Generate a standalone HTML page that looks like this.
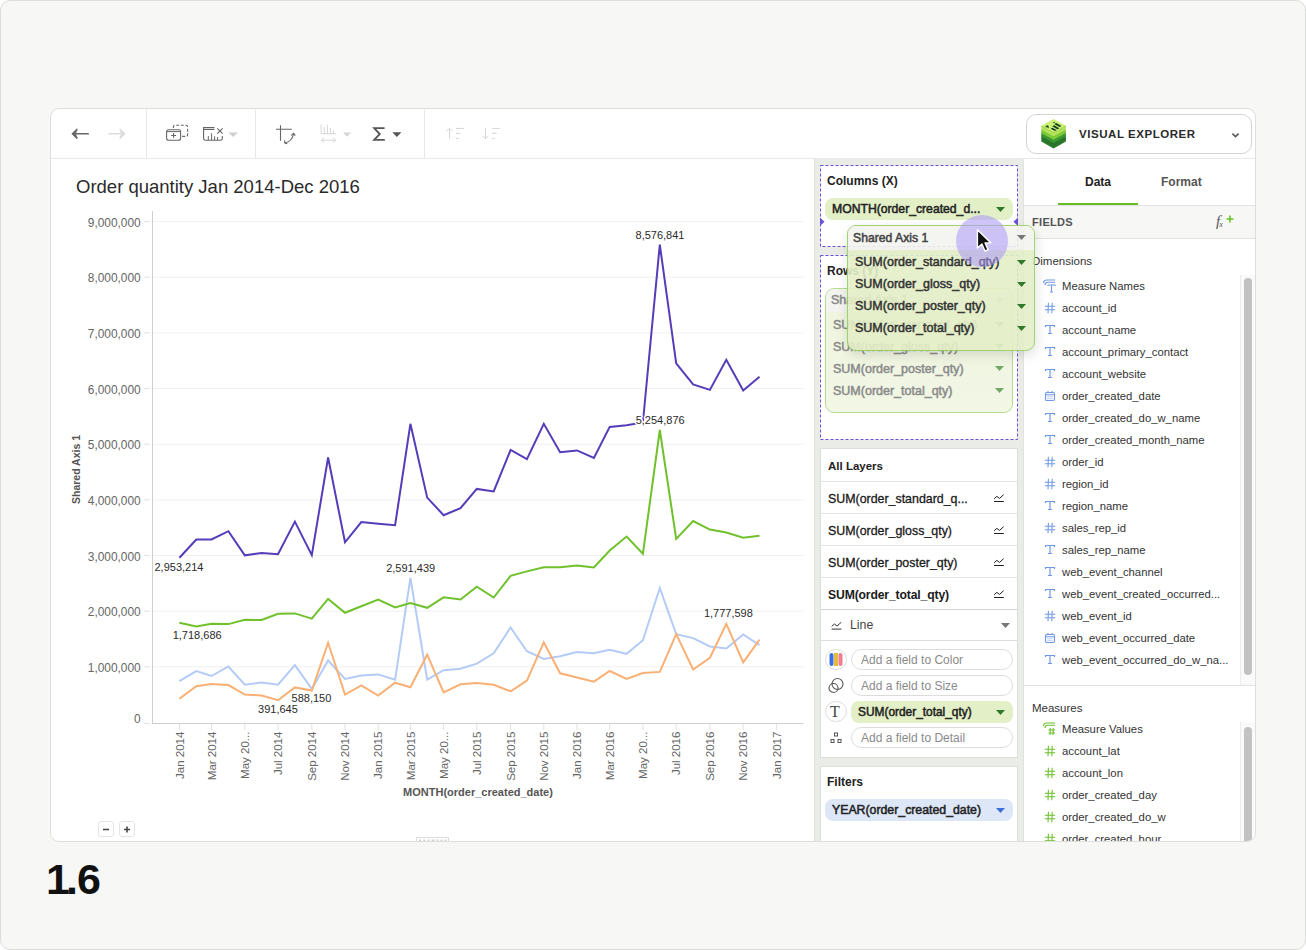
<!DOCTYPE html>
<html><head><meta charset="utf-8"><title>Visual Explorer</title>
<style>
*{box-sizing:border-box;margin:0;padding:0}
html,body{width:1306px;height:950px;overflow:hidden;background:#fff;font-family:'Liberation Sans',Arial,sans-serif;color:#222}
.abs{position:absolute}
#frame{position:absolute;left:0;top:0;width:1306px;height:950px;border:1px solid #dcdedb;border-radius:10px;background:#f7f7f5}
#card{position:absolute;left:50px;top:108px;width:1206px;height:734px;border:1px solid #dddfdc;border-radius:9px;background:#fff;overflow:hidden}
#inner{position:absolute;left:-51px;top:-109px;width:1306px;height:950px}
#toolbar{position:absolute;left:51px;top:109px;width:1204px;height:50px;border-bottom:1px solid #e9eae7}
.vdiv{position:absolute;top:109px;width:1px;height:49px;background:#e8e8e6}
#chartsvg{position:absolute;left:0;top:0}
.yl{font-family:'Liberation Sans',Arial,sans-serif;font-size:11.9px;fill:#666}
.xl{font-family:'Liberation Sans',Arial,sans-serif;font-size:11.5px;fill:#666}
.dl{font-family:'Liberation Sans',Arial,sans-serif;font-size:11px;fill:#2a2a2a;stroke:#fff;stroke-width:3px;paint-order:stroke;stroke-linejoin:round}
.at{font-family:'Liberation Sans',Arial,sans-serif;font-size:11px;font-weight:bold;fill:#555}
#title{position:absolute;left:76px;top:176px;font-size:18.5px;color:#2a2a2a;white-space:nowrap;line-height:22px}
#mid{position:absolute;left:814px;top:159px;width:210px;height:682px;background:#eaece8;border-left:1px solid #dfe1dd}
#right{position:absolute;left:1023px;top:159px;width:232px;height:682px;background:#fff;border-left:1px solid #e2e2e0}
.lbl{position:absolute;font-size:12px;font-weight:bold;color:#222;white-space:nowrap;line-height:14px}
.pill{position:absolute;border-radius:8px;white-space:nowrap;font-size:12px;line-height:22px}
.pill svg{position:absolute;right:8px;top:9px;display:block}
.tw{position:absolute;line-height:0}
.tw svg{display:block}
.fi{position:absolute;left:1062px;font-size:11.3px;color:#333;white-space:nowrap;line-height:16px}
.ic{position:absolute}
.lr{position:absolute;left:828px;font-size:12.4px;font-weight:normal;color:#1a1a1a;-webkit-text-stroke:0.3px #1a1a1a;white-space:nowrap;line-height:14px}
.lr.b{font-weight:bold;font-size:12.2px;-webkit-text-stroke:0;letter-spacing:-0.15px}
.sep{position:absolute;left:821px;width:196px;height:1px;background:#e4e4e2}
.enc{position:absolute;left:851px;width:162px;height:21px;border:1px solid #dcdcda;border-radius:11px;font-size:12px;color:#8a8a8a;line-height:21px;padding-left:9px;white-space:nowrap;background:#fff}
.eic{position:absolute;left:825px;width:22px;height:21px;border:1px solid #dcdcda;border-radius:11px;background:#fff}
.pr{position:absolute;font-size:12.5px;font-weight:normal;color:#333;-webkit-text-stroke:0.5px #333;white-space:nowrap;line-height:14px}
.med{font-weight:normal !important;-webkit-text-stroke:0.5px #222}
</style></head><body>
<div id="frame"></div>
<div id="card"><div id="inner">
<div id="toolbar"></div>
<div class="vdiv" style="left:146px"></div>
<div class="vdiv" style="left:255px"></div>
<div class="vdiv" style="left:424px"></div>

<!-- toolbar icons -->
<svg class="abs" style="left:60px;top:118px" width="460" height="32" viewBox="60 118 460 32">
  <!-- back -->
  <path d="M75 133.8 H88.8" stroke="#666" stroke-width="1.5"/>
  <path d="M71.8 133.8 L76.9 128.8 L77.3 129.6 L75.3 133.8 L77.3 138 L76.9 138.8 Z" fill="#666" stroke="#666" stroke-width="0.8" stroke-linejoin="round"/>
  <!-- forward -->
  <path d="M108.5 133.8 H122" stroke="#dcdcdc" stroke-width="1.5"/>
  <path d="M125.2 133.8 L120.1 128.8 L119.7 129.6 L121.7 133.8 L119.7 138 L120.1 138.8 Z" fill="#dcdcdc" stroke="#dcdcdc" stroke-width="0.8" stroke-linejoin="round"/>
  <!-- duplicate -->
  <rect x="166.6" y="129.7" width="14" height="10.6" rx="2" stroke="#666" stroke-width="1.1" fill="#fff"/>
  <path d="M166.6 131.6 H180.6" stroke="#666" stroke-width="1"/>
  <path d="M173.6 133 V138 M171.1 135.5 H176.1" stroke="#666" stroke-width="1.1"/>
  <path d="M173.3 128 V127 Q173.3 125.3 175 125.3 H186 Q187.6 125.3 187.6 127 V134.7 Q187.6 136.4 186 136.4 H181" stroke="#666" stroke-width="1.1" fill="none" stroke-dasharray="3 1.6"/>
  <!-- chart x -->
  <path d="M214.5 127.6 H203.6 V138.6 Q203.6 140.3 205.4 140.3 H220.6 Q222.3 140.3 222.3 138.6 V136" stroke="#666" stroke-width="1.1" fill="none"/>
  <path d="M204 129.5 H214.5" stroke="#666" stroke-width="1"/>
  <path d="M208.3 136 V140 M211.6 133.3 V140 M214.6 136.3 V140 M217.6 137 V140" stroke="#666" stroke-width="1"/>
  <path d="M217.2 128.3 L222.6 133.7 M222.6 128.3 L217.2 133.7" stroke="#666" stroke-width="1.1"/>
  <path d="M228.4 132.5 H237.8 L233.1 136.9 Z" fill="#cfcfcd"/>
  <!-- swap -->
  <path d="M280.5 125.3 V140.7 M276 129.3 H291.8" stroke="#666" stroke-width="1.1"/>
  <path d="M285 142.8 Q292 141.5 293.5 134" stroke="#666" stroke-width="1.1" fill="none"/>
  <path d="M284.6 140.4 L284.8 143 L287.3 143.7 M291.3 135.4 L293.6 133.4 L295.3 135.6" stroke="#666" stroke-width="1.1" fill="none"/>
  <!-- disabled axis icon -->
  <path d="M321.2 124.3 V133.7 H336 M324.3 127 V133.7 M327.4 124.8 V133.7 M330.4 128 V133.7 M333.4 130 V133.7" stroke="#d6d6d4" stroke-width="1" fill="none"/>
  <path d="M321.5 140.2 H335.5 M324 137.8 L321.3 140.2 L324 142.6 M333 137.8 L335.7 140.2 L333 142.6" stroke="#d6d6d4" stroke-width="1" fill="none"/>
  <path d="M343 132.5 H351.3 L347.15 136.8 Z" fill="#d6d6d4"/>
  <!-- sigma -->
  <path d="M384.6 128.2 H374.2 L379.8 134 L374.2 139.8 H384.8" stroke="#555" stroke-width="1.8" fill="none" stroke-linejoin="miter"/>
  <path d="M392.3 132.3 H401.4 L396.85 137 Z" fill="#555"/>
  <!-- sort asc -->
  <path d="M449.5 128.3 V138.8 M446.4 131.3 L449.5 128.2 L452.6 131.3" stroke="#d6d6d4" stroke-width="1" fill="none"/>
  <path d="M456 128.4 H464 M456 133.4 H460.6 M456 138.4 H459" stroke="#d6d6d4" stroke-width="1"/>
  <!-- sort desc -->
  <path d="M485.5 128.2 V138.7 M482.4 135.7 L485.5 138.8 L488.6 135.7" stroke="#d6d6d4" stroke-width="1" fill="none"/>
  <path d="M492 128.4 H500 M492 133.4 H496.6 M492 138.4 H495" stroke="#d6d6d4" stroke-width="1"/>
</svg>

<!-- Visual Explorer button -->
<div class="abs" style="left:1026px;top:114px;width:226px;height:40px;border:1px solid #d3d3d1;border-radius:10px;background:#fff"></div>
<svg class="abs" style="left:1040px;top:118px" width="27" height="32" viewBox="0 0 27 32">
  <path d="M1.3 17.4 L13.6 10.7 L25.9 17.4 V23.6 L13.6 30.6 L1.3 23.6 Z" fill="#2b7a2c"/>
  <path d="M1.3 20.5 L13.6 27.5 L25.9 20.5" stroke="#246b26" stroke-width="0.7" fill="none"/>
  <path d="M1.3 13.9 L13.6 7.2 L25.9 13.9 V17.9 L13.6 24.8 L1.3 17.9 Z" fill="#3d9833"/>
  <path d="M1.3 11.4 L13.6 4.7 L25.9 11.4 V14.9 L13.6 21.8 L1.3 14.9 Z" fill="#7cca38"/>
  <path d="M1.3 7.9 L13.6 1.2 L25.9 7.9 V11.4 L13.6 18.3 L1.3 11.4 Z" fill="#b4e25b"/>
  <path d="M1.3 7.9 L13.6 1.2 L25.9 7.9 L13.6 14.8 Z" fill="#cdf276"/>
  <path d="M1.3 7.9 L13.6 14.8 L25.9 7.9" stroke="#8cc63c" stroke-width="0.6" fill="none"/>
  <g fill="#123f1f">
    <path d="M5.3 9.2 Q5.5 7.3 8.2 7.2 L8.6 8.9 Z"/>
    <path d="M6.5 9.5 L9.2 9.3 L8.8 10.3 Z"/>
    <path d="M14.2 5.9 L16.2 4.9 L21.5 7.9 L19.5 8.9 Z"/>
    <path d="M12.2 8.3 L14.2 7.3 L19.3 10.2 L17.3 11.2 Z"/>
    <path d="M10.6 10.7 L12.4 9.8 L16.6 12.1 L14.8 13 Z"/>
    <path d="M12.8 4.4 L14 3.8 L15.2 4.5 L14 5.1 Z"/>
  </g>
</svg>
<div class="abs" style="left:1079px;top:126px;font-size:11.5px;font-weight:bold;letter-spacing:0.55px;color:#2a2a2a;white-space:nowrap;line-height:16px">VISUAL EXPLORER</div>
<svg class="abs" style="left:1230px;top:131px" width="11" height="8" viewBox="0 0 11 8"><path d="M2.4 2.6 L5.5 5.5 L8.6 2.6" stroke="#5a5e5b" stroke-width="1.7" fill="none"/></svg>

<!-- chart title -->
<div id="title">Order quantity Jan 2014-Dec 2016</div>

<svg id="chartsvg" width="1306" height="950" viewBox="0 0 1306 950">
<line x1="144" y1="723.5" x2="150" y2="723.5" stroke="#e2e2e0" stroke-width="1"/>
<text x="140.7" y="723.1" text-anchor="end" class="yl">0</text>
<line x1="152.5" y1="666.8" x2="803" y2="666.8" stroke="#f0f0ef" stroke-width="1"/>
<line x1="144" y1="666.8" x2="150" y2="666.8" stroke="#e2e2e0" stroke-width="1"/>
<text x="140.7" y="672.0" text-anchor="end" class="yl">1,000,000</text>
<line x1="152.5" y1="611.2" x2="803" y2="611.2" stroke="#f0f0ef" stroke-width="1"/>
<line x1="144" y1="611.2" x2="150" y2="611.2" stroke="#e2e2e0" stroke-width="1"/>
<text x="140.7" y="616.4" text-anchor="end" class="yl">2,000,000</text>
<line x1="152.5" y1="555.5" x2="803" y2="555.5" stroke="#f0f0ef" stroke-width="1"/>
<line x1="144" y1="555.5" x2="150" y2="555.5" stroke="#e2e2e0" stroke-width="1"/>
<text x="140.7" y="560.7" text-anchor="end" class="yl">3,000,000</text>
<line x1="152.5" y1="499.9" x2="803" y2="499.9" stroke="#f0f0ef" stroke-width="1"/>
<line x1="144" y1="499.9" x2="150" y2="499.9" stroke="#e2e2e0" stroke-width="1"/>
<text x="140.7" y="505.1" text-anchor="end" class="yl">4,000,000</text>
<line x1="152.5" y1="444.2" x2="803" y2="444.2" stroke="#f0f0ef" stroke-width="1"/>
<line x1="144" y1="444.2" x2="150" y2="444.2" stroke="#e2e2e0" stroke-width="1"/>
<text x="140.7" y="449.4" text-anchor="end" class="yl">5,000,000</text>
<line x1="152.5" y1="388.5" x2="803" y2="388.5" stroke="#f0f0ef" stroke-width="1"/>
<line x1="144" y1="388.5" x2="150" y2="388.5" stroke="#e2e2e0" stroke-width="1"/>
<text x="140.7" y="393.7" text-anchor="end" class="yl">6,000,000</text>
<line x1="152.5" y1="332.9" x2="803" y2="332.9" stroke="#f0f0ef" stroke-width="1"/>
<line x1="144" y1="332.9" x2="150" y2="332.9" stroke="#e2e2e0" stroke-width="1"/>
<text x="140.7" y="338.1" text-anchor="end" class="yl">7,000,000</text>
<line x1="152.5" y1="277.2" x2="803" y2="277.2" stroke="#f0f0ef" stroke-width="1"/>
<line x1="144" y1="277.2" x2="150" y2="277.2" stroke="#e2e2e0" stroke-width="1"/>
<text x="140.7" y="282.4" text-anchor="end" class="yl">8,000,000</text>
<line x1="152.5" y1="221.6" x2="803" y2="221.6" stroke="#f0f0ef" stroke-width="1"/>
<line x1="144" y1="221.6" x2="150" y2="221.6" stroke="#e2e2e0" stroke-width="1"/>
<text x="140.7" y="226.8" text-anchor="end" class="yl">9,000,000</text>
<line x1="152.5" y1="211" x2="152.5" y2="724" stroke="#cfcfcd" stroke-width="1"/>
<line x1="152" y1="723.5" x2="803.5" y2="723.5" stroke="#cfcfcd" stroke-width="1"/>
<line x1="179.4" y1="724" x2="179.4" y2="730" stroke="#e2e2e0" stroke-width="1"/>
<text transform="translate(183.5,731.6) rotate(-90)" text-anchor="end" class="xl">Jan 2014</text>
<line x1="211.5" y1="724" x2="211.5" y2="730" stroke="#e2e2e0" stroke-width="1"/>
<text transform="translate(215.6,731.6) rotate(-90)" text-anchor="end" class="xl">Mar 2014</text>
<line x1="244.8" y1="724" x2="244.8" y2="730" stroke="#e2e2e0" stroke-width="1"/>
<text transform="translate(248.9,731.6) rotate(-90)" text-anchor="end" class="xl">May 20...</text>
<line x1="278.0" y1="724" x2="278.0" y2="730" stroke="#e2e2e0" stroke-width="1"/>
<text transform="translate(282.1,731.6) rotate(-90)" text-anchor="end" class="xl">Jul 2014</text>
<line x1="311.8" y1="724" x2="311.8" y2="730" stroke="#e2e2e0" stroke-width="1"/>
<text transform="translate(315.9,731.6) rotate(-90)" text-anchor="end" class="xl">Sep 2014</text>
<line x1="345.0" y1="724" x2="345.0" y2="730" stroke="#e2e2e0" stroke-width="1"/>
<text transform="translate(349.1,731.6) rotate(-90)" text-anchor="end" class="xl">Nov 2014</text>
<line x1="378.2" y1="724" x2="378.2" y2="730" stroke="#e2e2e0" stroke-width="1"/>
<text transform="translate(382.3,731.6) rotate(-90)" text-anchor="end" class="xl">Jan 2015</text>
<line x1="410.4" y1="724" x2="410.4" y2="730" stroke="#e2e2e0" stroke-width="1"/>
<text transform="translate(414.5,731.6) rotate(-90)" text-anchor="end" class="xl">Mar 2015</text>
<line x1="443.6" y1="724" x2="443.6" y2="730" stroke="#e2e2e0" stroke-width="1"/>
<text transform="translate(447.7,731.6) rotate(-90)" text-anchor="end" class="xl">May 20...</text>
<line x1="476.8" y1="724" x2="476.8" y2="730" stroke="#e2e2e0" stroke-width="1"/>
<text transform="translate(480.9,731.6) rotate(-90)" text-anchor="end" class="xl">Jul 2015</text>
<line x1="510.6" y1="724" x2="510.6" y2="730" stroke="#e2e2e0" stroke-width="1"/>
<text transform="translate(514.7,731.6) rotate(-90)" text-anchor="end" class="xl">Sep 2015</text>
<line x1="543.8" y1="724" x2="543.8" y2="730" stroke="#e2e2e0" stroke-width="1"/>
<text transform="translate(547.9,731.6) rotate(-90)" text-anchor="end" class="xl">Nov 2015</text>
<line x1="577.0" y1="724" x2="577.0" y2="730" stroke="#e2e2e0" stroke-width="1"/>
<text transform="translate(581.1,731.6) rotate(-90)" text-anchor="end" class="xl">Jan 2016</text>
<line x1="609.7" y1="724" x2="609.7" y2="730" stroke="#e2e2e0" stroke-width="1"/>
<text transform="translate(613.8,731.6) rotate(-90)" text-anchor="end" class="xl">Mar 2016</text>
<line x1="642.9" y1="724" x2="642.9" y2="730" stroke="#e2e2e0" stroke-width="1"/>
<text transform="translate(647.0,731.6) rotate(-90)" text-anchor="end" class="xl">May 20...</text>
<line x1="676.2" y1="724" x2="676.2" y2="730" stroke="#e2e2e0" stroke-width="1"/>
<text transform="translate(680.3,731.6) rotate(-90)" text-anchor="end" class="xl">Jul 2016</text>
<line x1="709.9" y1="724" x2="709.9" y2="730" stroke="#e2e2e0" stroke-width="1"/>
<text transform="translate(714.0,731.6) rotate(-90)" text-anchor="end" class="xl">Sep 2016</text>
<line x1="743.2" y1="724" x2="743.2" y2="730" stroke="#e2e2e0" stroke-width="1"/>
<text transform="translate(747.3,731.6) rotate(-90)" text-anchor="end" class="xl">Nov 2016</text>
<line x1="776.4" y1="724" x2="776.4" y2="730" stroke="#e2e2e0" stroke-width="1"/>
<text transform="translate(780.5,731.6) rotate(-90)" text-anchor="end" class="xl">Jan 2017</text>
<polyline points="179.4,681.2 196.3,671.1 211.5,676.0 228.4,666.5 244.8,684.7 261.6,682.6 278.0,684.7 294.9,665.1 311.8,688.9 328.1,660.5 345.0,678.9 361.3,675.4 378.2,674.4 395.1,679.8 410.4,577.8 427.2,679.6 443.6,670.2 460.5,668.8 476.8,663.6 493.7,653.3 510.6,627.5 526.9,651.2 543.8,658.9 560.1,656.2 577.0,652.1 593.9,653.3 609.7,649.7 626.6,653.8 642.9,640.2 659.8,588.0 676.2,634.1 693.1,638.1 709.9,646.5 726.3,648.5 743.2,634.4 759.5,645.2" fill="none" stroke="#b3cbf6" stroke-width="2" stroke-linejoin="miter"/>
<polyline points="179.4,698.8 196.3,686.2 211.5,684.1 228.4,685.1 244.8,694.6 261.6,695.5 278.0,700.2 294.9,687.4 311.8,690.5 328.1,642.8 345.0,694.6 361.3,685.3 378.2,695.5 395.1,682.7 410.4,687.2 427.2,654.7 443.6,692.4 460.5,684.3 476.8,683.1 493.7,684.7 510.6,691.3 526.9,680.6 543.8,642.3 560.1,673.3 577.0,677.5 593.9,681.6 609.7,671.0 626.6,679.0 642.9,673.0 659.8,671.9 676.2,634.1 693.1,669.5 709.9,657.8 726.3,623.8 743.2,662.4 759.5,639.7" fill="none" stroke="#fab074" stroke-width="2" stroke-linejoin="miter"/>
<polyline points="179.4,622.7 196.3,626.4 211.5,623.7 228.4,624.1 244.8,619.8 261.6,620.0 278.0,613.8 294.9,613.4 311.8,618.6 328.1,598.9 345.0,612.8 361.3,606.2 378.2,599.5 395.1,607.4 410.4,603.1 427.2,607.8 443.6,597.3 460.5,599.5 476.8,586.7 493.7,597.5 510.6,575.8 526.9,571.4 543.8,567.3 560.1,567.3 577.0,565.6 593.9,567.5 609.7,550.5 626.6,536.6 642.9,553.8 659.8,430.0 676.2,538.9 693.1,521.0 709.9,529.6 726.3,532.5 743.2,537.8 759.5,535.8" fill="none" stroke="#70c12c" stroke-width="2" stroke-linejoin="miter"/>
<polyline points="179.4,557.8 196.3,539.6 211.5,539.4 228.4,531.2 244.8,555.3 261.6,552.9 278.0,554.3 294.9,521.6 311.8,555.1 328.1,457.5 345.0,542.3 361.3,522.1 378.2,523.7 395.1,525.2 410.4,423.8 427.2,497.6 443.6,515.2 460.5,508.1 476.8,488.9 493.7,491.4 510.6,450.0 526.9,459.1 543.8,423.8 560.1,452.3 577.0,450.4 593.9,457.9 609.7,426.9 626.6,425.2 642.9,422.5 659.8,244.6 676.2,363.4 693.1,384.4 709.9,389.9 726.3,359.8 743.2,390.5 759.5,376.7" fill="none" stroke="#553cb9" stroke-width="2" stroke-linejoin="miter"/>
<text x="660" y="239" text-anchor="middle" class="dl">8,576,841</text>
<text x="635.7" y="424" text-anchor="start" class="dl">5,254,876</text>
<text x="154.5" y="570.5" text-anchor="start" class="dl">2,953,214</text>
<text x="172.7" y="639.3" text-anchor="start" class="dl">1,718,686</text>
<text x="291.6" y="702.2" text-anchor="start" class="dl">588,150</text>
<text x="258.1" y="713.3" text-anchor="start" class="dl">391,645</text>
<text x="386.2" y="571.8" text-anchor="start" class="dl">2,591,439</text>
<text x="703.9" y="617" text-anchor="start" class="dl">1,777,598</text>
<text transform="translate(80.1,469.5) rotate(-90)" text-anchor="middle" class="at" style="font-size:10.5px">Shared Axis 1</text>
<text x="478" y="795.5" text-anchor="middle" class="at">MONTH(order_created_date)</text>
</svg>

<!-- zoom buttons -->
<div class="abs" style="left:98px;top:821px;width:16px;height:16px;border:1px solid #e4e4e2;border-radius:3px;background:#fff"></div>
<div class="abs" style="left:119px;top:821px;width:16px;height:16px;border:1px solid #e4e4e2;border-radius:3px;background:#fff"></div>
<svg class="abs" style="left:98px;top:821px" width="40" height="16" viewBox="0 0 40 16">
  <path d="M5 8.5 H11" stroke="#444" stroke-width="1.6"/>
  <path d="M26 8.5 H32 M29 5.5 V11.5" stroke="#444" stroke-width="1.6"/>
</svg>
<div class="abs" style="left:416px;top:837px;width:33px;height:4px;border:1px solid #dcdcdc;border-bottom:none;background:#fff"></div>
<svg class="abs" style="left:416px;top:838px" width="34" height="4" viewBox="0 0 34 4"><g fill="#d0d4d4"><rect x="3" y="1.5" width="2" height="2"/><rect x="7.3" y="1.5" width="2" height="2"/><rect x="11.5" y="1.5" width="2" height="2"/><rect x="15.6" y="1.5" width="3" height="2"/><rect x="20.5" y="1.5" width="2" height="2"/><rect x="24.6" y="1.5" width="2" height="2"/><rect x="28.5" y="1.5" width="2" height="2"/></g></svg>

<!-- middle panel -->
<div id="mid"></div>
<svg class="abs" style="left:814px;top:159px" width="210" height="300" viewBox="814 159 210 300">
  <rect x="820.5" y="165.5" width="197" height="81" fill="#fff" stroke="#6b4fd8" stroke-width="1" stroke-dasharray="3 2"/>
  <rect x="820.5" y="255.5" width="197" height="184" fill="#fff" stroke="#6b4fd8" stroke-width="1" stroke-dasharray="3 2"/>
  <path d="M820 217.5 L824.5 221.8 L820 226 Z" fill="#6b4fd8"/>
  <path d="M1018 217.5 L1013.5 221.8 L1018 226 Z" fill="#6b4fd8"/>
</svg>
<div class="lbl" style="left:827px;top:174px">Columns (X)</div>
<div class="pill med" style="left:825px;top:198px;width:188px;height:22px;background:#e3efc6;padding-left:7px;color:#222;font-size:12.2px">MONTH(order_created_d...<svg width="9" height="5" viewBox="0 0 9 5"><path d="M0 0 H9 L4.5 5 Z" fill="#2f7a28"/></svg></div>
<div class="lbl" style="left:827px;top:264px">Rows (Y)</div>

<!-- faded original group -->
<div class="abs" style="left:825px;top:288px;width:188px;height:125px;border:1px solid #b4dc8e;border-radius:9px;background:linear-gradient(#eef4dd,#f2f7e6);overflow:hidden">
  <div style="position:absolute;left:0;top:0;width:186px;height:23px;background:#f3f4f0"></div>
</div>
<div class="pr" style="left:831px;top:293px;color:#8a8a8a;-webkit-text-stroke:0.5px #8a8a8a">Shared Axis 1</div>
<div class="pr" style="left:833px;top:318px;color:#8a8a8a;-webkit-text-stroke:0.5px #8a8a8a">SUM(order_standard_qty)</div>
<div class="pr" style="left:833px;top:340px;color:#8a8a8a;-webkit-text-stroke:0.5px #8a8a8a">SUM(order_gloss_qty)</div>
<div class="pr" style="left:833px;top:362px;color:#8a8a8a;-webkit-text-stroke:0.5px #8a8a8a">SUM(order_poster_qty)</div>
<div class="pr" style="left:833px;top:384px;color:#8a8a8a;-webkit-text-stroke:0.5px #8a8a8a">SUM(order_total_qty)</div>
<div class="tw" style="left:995px;top:298px;opacity:0.45"><svg width="9" height="5" viewBox="0 0 9 5"><path d="M0 0 H9 L4.5 5 Z" fill="#777"/></svg></div>
<div class="tw" style="left:995px;top:322px"><svg width="9" height="5" viewBox="0 0 9 5"><path d="M0 0 H9 L4.5 5 Z" fill="#6fa865"/></svg></div>
<div class="tw" style="left:995px;top:344px"><svg width="9" height="5" viewBox="0 0 9 5"><path d="M0 0 H9 L4.5 5 Z" fill="#6fa865"/></svg></div>
<div class="tw" style="left:995px;top:366px"><svg width="9" height="5" viewBox="0 0 9 5"><path d="M0 0 H9 L4.5 5 Z" fill="#6fa865"/></svg></div>
<div class="tw" style="left:995px;top:388px"><svg width="9" height="5" viewBox="0 0 9 5"><path d="M0 0 H9 L4.5 5 Z" fill="#6fa865"/></svg></div>

<!-- All layers -->
<div class="abs" style="left:820px;top:448px;width:198px;height:310px;background:#fff;border:1px solid #dcdedb"></div>
<div class="lbl" style="left:828px;top:459px;font-size:11.5px">All Layers</div>
<div class="sep" style="top:481px"></div>
<div class="lr" style="top:492px">SUM(order_standard_q...</div>
<div class="sep" style="top:513px"></div>
<div class="lr" style="top:524px">SUM(order_gloss_qty)</div>
<div class="sep" style="top:545px"></div>
<div class="lr" style="top:556px">SUM(order_poster_qty)</div>
<div class="sep" style="top:577px"></div>
<div class="lr b" style="top:588px">SUM(order_total_qty)</div>
<div class="sep" style="top:609px;background:#cfd4d6"></div>
<svg class="abs" style="left:990px;top:490px" width="16" height="110" viewBox="0 0 16 110"><g stroke="#222" stroke-width="1" fill="none" stroke-linecap="round" stroke-linejoin="round"><path d="M4.4 8.5 L6.8 6.4 L9.5 8.4 L13.4 4.9 M4.4 11.5 H13.4"/><path d="M4.4 40.5 L6.8 38.4 L9.5 40.4 L13.4 36.9 M4.4 43.5 H13.4"/><path d="M4.4 72.5 L6.8 70.4 L9.5 72.4 L13.4 68.9 M4.4 75.5 H13.4"/><path d="M4.4 104.5 L6.8 102.4 L9.5 104.4 L13.4 100.9 M4.4 107.5 H13.4"/></g></svg>
<svg class="abs" style="left:830px;top:618px" width="14" height="14" viewBox="0 0 14 14"><g stroke="#333" stroke-width="1" fill="none" stroke-linecap="round" stroke-linejoin="round"><path d="M2.0 8.1 L4.4 6.0 L7.1 8.0 L11.0 4.5 M2.0 11.1 H11.0"/></g></svg>
<div class="abs" style="left:850px;top:618px;font-size:12.3px;color:#444;line-height:14px">Line</div>
<div class="tw" style="left:1001px;top:623px"><svg width="9" height="5" viewBox="0 0 9 5"><path d="M0 0 H9 L4.5 5 Z" fill="#777"/></svg></div>
<div class="sep" style="top:640px;background:#d8dcde"></div>

<div class="eic" style="top:649px"></div>
<svg class="abs" style="left:829px;top:652px" width="14" height="15" viewBox="0 0 14 15">
  <rect x="0.5" y="1" width="4" height="13" rx="2" fill="#3b6fe0"/>
  <rect x="5" y="1" width="4" height="13" fill="#e7b93c"/>
  <rect x="9.5" y="1" width="4" height="13" rx="2" fill="#f27d8e"/>
</svg>
<div class="enc" style="top:649px">Add a field to Color</div>
<svg class="abs" style="left:827px;top:677px" width="18" height="18" viewBox="0 0 18 18"><g stroke="#555" stroke-width="1.1" fill="none"><circle cx="6.5" cy="11" r="4.5"/><circle cx="10.5" cy="7" r="5.5"/></g></svg>
<div class="enc" style="top:675px">Add a field to Size</div>
<div class="eic" style="top:701px"></div>
<div class="abs" style="left:830px;top:703px;font-family:'Liberation Serif',serif;font-size:16px;color:#444;line-height:18px">T</div>
<div class="pill med" style="left:851px;top:701px;width:162px;height:22px;background:#e3efc6;padding-left:7px;color:#222;font-size:11.9px">SUM(order_total_qty)<svg width="9" height="5" viewBox="0 0 9 5"><path d="M0 0 H9 L4.5 5 Z" fill="#2f7a28"/></svg></div>
<svg class="abs" style="left:830px;top:732px" width="12" height="12" viewBox="0 0 12 12"><g stroke="#555" stroke-width="1" fill="none"><rect x="4.5" y="1" width="3" height="3"/><rect x="1" y="7.5" width="3" height="3"/><rect x="8" y="7.5" width="3" height="3"/></g></svg>
<div class="enc" style="top:727px">Add a field to Detail</div>

<!-- Filters -->
<div class="abs" style="left:820px;top:766px;width:198px;height:80px;background:#fff;border:1px solid #dcdedb"></div>
<div class="lbl" style="left:827px;top:775px">Filters</div>
<div class="pill med" style="left:825px;top:799px;width:188px;height:22px;background:#dde7f8;padding-left:7px;color:#222;font-size:12.3px">YEAR(order_created_date)<svg width="9" height="5" viewBox="0 0 9 5"><path d="M0 0 H9 L4.5 5 Z" fill="#3f6fd8"/></svg></div>

<!-- right panel -->
<div id="right"></div>
<div class="abs" style="left:1085px;top:174px;font-size:12px;font-weight:bold;color:#222;line-height:16px">Data</div>
<div class="abs" style="left:1161px;top:174px;font-size:12px;font-weight:bold;color:#555;line-height:16px">Format</div>
<div class="abs" style="left:1058px;top:203px;width:80px;height:2px;background:#68bd27"></div>
<div class="abs" style="left:1024px;top:205px;width:231px;height:34px;background:#f7f7f5;border-top:1px solid #e2e2e0;border-bottom:1px solid #e2e2e0"></div>
<div class="abs" style="left:1032px;top:216px;font-size:11px;font-weight:bold;letter-spacing:0.3px;color:#555;line-height:13px">FIELDS</div>
<div class="abs" style="left:1216px;top:213px;font-family:'Liberation Serif',serif;font-style:italic;font-size:15px;color:#555;line-height:16px">f<span style="font-size:8px;position:relative;left:-1px;top:1px">x</span></div>
<svg class="abs" style="left:1226px;top:214.5px" width="8" height="8" viewBox="0 0 8 8"><path d="M4 0.5 V7.5 M0.5 4 H7.5" stroke="#6abf2b" stroke-width="1.6"/></svg>
<div class="abs" style="left:1032px;top:253px;font-size:11.5px;color:#333;line-height:16px">Dimensions</div>
<div class="abs" style="left:1240px;top:275px;width:15px;height:410px;background:#fafafa;border-left:1px solid #ececea"></div>
<div class="abs" style="left:1244px;top:278px;width:8px;height:397px;background:#c2c2c2;border-radius:4px"></div>
<div class="abs" style="left:1024px;top:685px;width:231px;height:1px;background:#e2e2e0"></div>
<div class="abs" style="left:1032px;top:700px;font-size:11.5px;color:#333;line-height:16px">Measures</div>
<div class="abs" style="left:1240px;top:722px;width:15px;height:120px;background:#fafafa;border-left:1px solid #ececea"></div>
<div class="abs" style="left:1244px;top:727px;width:8px;height:120px;background:#c2c2c2;border-radius:4px"></div>
<svg class="ic" style="left:1041.8px;top:278.2px" width="16" height="16" viewBox="0 0 16 16"><path d="M1.5 5 Q1.5 2 5 2 H13" stroke="#6f98e6" stroke-width="1.1" fill="none"/><path d="M3 7 Q3 4.3 6 4.3 H13" stroke="#6f98e6" stroke-width="1.1" fill="none"/><path d="M6 7 H13 M6 6.5 V8 M13 6.5 V8 M9.5 7 V14 M8 14 H11" stroke="#6f98e6" stroke-width="1.1" fill="none"/></svg>
<div class="fi" style="top:278.2px">Measure Names</div>
<svg class="ic" style="left:1043.8px;top:302.2px" width="12" height="12" viewBox="0 0 12 12"><path d="M4.4 0.8 L4 11.2 M8.2 0.8 L7.8 11.2 M0.8 4.2 H11.2 M0.8 7.8 H11.2" stroke="#6f98e6" stroke-width="1.05" fill="none"/></svg>
<div class="fi" style="top:300.2px">account_id</div>
<svg class="ic" style="left:1043.8px;top:323.2px" width="12" height="12" viewBox="0 0 12 12"><path d="M1.5 2.5 H10.5 M1.5 2 V4 M10.5 2 V4 M6 2.5 V10.5 M4 10.5 H8" stroke="#6f98e6" stroke-width="1.2" fill="none"/></svg>
<div class="fi" style="top:322.2px">account_name</div>
<svg class="ic" style="left:1043.8px;top:345.2px" width="12" height="12" viewBox="0 0 12 12"><path d="M1.5 2.5 H10.5 M1.5 2 V4 M10.5 2 V4 M6 2.5 V10.5 M4 10.5 H8" stroke="#6f98e6" stroke-width="1.2" fill="none"/></svg>
<div class="fi" style="top:344.2px">account_primary_contact</div>
<svg class="ic" style="left:1043.8px;top:367.2px" width="12" height="12" viewBox="0 0 12 12"><path d="M1.5 2.5 H10.5 M1.5 2 V4 M10.5 2 V4 M6 2.5 V10.5 M4 10.5 H8" stroke="#6f98e6" stroke-width="1.2" fill="none"/></svg>
<div class="fi" style="top:366.2px">account_website</div>
<svg class="ic" style="left:1043.8px;top:390.2px" width="12" height="12" viewBox="0 0 12 12"><rect x="1.5" y="2.5" width="9" height="8" rx="1.2" stroke="#6f98e6" stroke-width="1.1" fill="none"/><path d="M1.5 4.8 H10.5 M4 1 V3 M8 1 V3" stroke="#6f98e6" stroke-width="1.1"/><path d="M3.5 6.8h1 M5.5 6.8h1 M7.5 6.8h1 M3.5 8.7h1 M5.5 8.7h1 M7.5 8.7h1" stroke="#6f98e6" stroke-width="0.9"/></svg>
<div class="fi" style="top:388.2px">order_created_date</div>
<svg class="ic" style="left:1043.8px;top:411.2px" width="12" height="12" viewBox="0 0 12 12"><path d="M1.5 2.5 H10.5 M1.5 2 V4 M10.5 2 V4 M6 2.5 V10.5 M4 10.5 H8" stroke="#6f98e6" stroke-width="1.2" fill="none"/></svg>
<div class="fi" style="top:410.2px">order_created_do_w_name</div>
<svg class="ic" style="left:1043.8px;top:433.2px" width="12" height="12" viewBox="0 0 12 12"><path d="M1.5 2.5 H10.5 M1.5 2 V4 M10.5 2 V4 M6 2.5 V10.5 M4 10.5 H8" stroke="#6f98e6" stroke-width="1.2" fill="none"/></svg>
<div class="fi" style="top:432.2px">order_created_month_name</div>
<svg class="ic" style="left:1043.8px;top:456.2px" width="12" height="12" viewBox="0 0 12 12"><path d="M4.4 0.8 L4 11.2 M8.2 0.8 L7.8 11.2 M0.8 4.2 H11.2 M0.8 7.8 H11.2" stroke="#6f98e6" stroke-width="1.05" fill="none"/></svg>
<div class="fi" style="top:454.2px">order_id</div>
<svg class="ic" style="left:1043.8px;top:478.2px" width="12" height="12" viewBox="0 0 12 12"><path d="M4.4 0.8 L4 11.2 M8.2 0.8 L7.8 11.2 M0.8 4.2 H11.2 M0.8 7.8 H11.2" stroke="#6f98e6" stroke-width="1.05" fill="none"/></svg>
<div class="fi" style="top:476.2px">region_id</div>
<svg class="ic" style="left:1043.8px;top:499.2px" width="12" height="12" viewBox="0 0 12 12"><path d="M1.5 2.5 H10.5 M1.5 2 V4 M10.5 2 V4 M6 2.5 V10.5 M4 10.5 H8" stroke="#6f98e6" stroke-width="1.2" fill="none"/></svg>
<div class="fi" style="top:498.2px">region_name</div>
<svg class="ic" style="left:1043.8px;top:522.2px" width="12" height="12" viewBox="0 0 12 12"><path d="M4.4 0.8 L4 11.2 M8.2 0.8 L7.8 11.2 M0.8 4.2 H11.2 M0.8 7.8 H11.2" stroke="#6f98e6" stroke-width="1.05" fill="none"/></svg>
<div class="fi" style="top:520.2px">sales_rep_id</div>
<svg class="ic" style="left:1043.8px;top:543.2px" width="12" height="12" viewBox="0 0 12 12"><path d="M1.5 2.5 H10.5 M1.5 2 V4 M10.5 2 V4 M6 2.5 V10.5 M4 10.5 H8" stroke="#6f98e6" stroke-width="1.2" fill="none"/></svg>
<div class="fi" style="top:542.2px">sales_rep_name</div>
<svg class="ic" style="left:1043.8px;top:565.2px" width="12" height="12" viewBox="0 0 12 12"><path d="M1.5 2.5 H10.5 M1.5 2 V4 M10.5 2 V4 M6 2.5 V10.5 M4 10.5 H8" stroke="#6f98e6" stroke-width="1.2" fill="none"/></svg>
<div class="fi" style="top:564.2px">web_event_channel</div>
<svg class="ic" style="left:1043.8px;top:587.2px" width="12" height="12" viewBox="0 0 12 12"><path d="M1.5 2.5 H10.5 M1.5 2 V4 M10.5 2 V4 M6 2.5 V10.5 M4 10.5 H8" stroke="#6f98e6" stroke-width="1.2" fill="none"/></svg>
<div class="fi" style="top:586.2px">web_event_created_occurred...</div>
<svg class="ic" style="left:1043.8px;top:610.2px" width="12" height="12" viewBox="0 0 12 12"><path d="M4.4 0.8 L4 11.2 M8.2 0.8 L7.8 11.2 M0.8 4.2 H11.2 M0.8 7.8 H11.2" stroke="#6f98e6" stroke-width="1.05" fill="none"/></svg>
<div class="fi" style="top:608.2px">web_event_id</div>
<svg class="ic" style="left:1043.8px;top:632.2px" width="12" height="12" viewBox="0 0 12 12"><rect x="1.5" y="2.5" width="9" height="8" rx="1.2" stroke="#6f98e6" stroke-width="1.1" fill="none"/><path d="M1.5 4.8 H10.5 M4 1 V3 M8 1 V3" stroke="#6f98e6" stroke-width="1.1"/><path d="M3.5 6.8h1 M5.5 6.8h1 M7.5 6.8h1 M3.5 8.7h1 M5.5 8.7h1 M7.5 8.7h1" stroke="#6f98e6" stroke-width="0.9"/></svg>
<div class="fi" style="top:630.2px">web_event_occurred_date</div>
<svg class="ic" style="left:1043.8px;top:653.2px" width="12" height="12" viewBox="0 0 12 12"><path d="M1.5 2.5 H10.5 M1.5 2 V4 M10.5 2 V4 M6 2.5 V10.5 M4 10.5 H8" stroke="#6f98e6" stroke-width="1.2" fill="none"/></svg>
<div class="fi" style="top:652.2px">web_event_occurred_do_w_na...</div>
<svg class="ic" style="left:1041.8px;top:721.2px" width="16" height="16" viewBox="0 0 16 16"><path d="M1.5 5 Q1.5 2 5 2 H13" stroke="#6abf2b" stroke-width="1.1" fill="none"/><path d="M3 7 Q3 4.3 6 4.3 H13" stroke="#6abf2b" stroke-width="1.1" fill="none"/><path d="M8.3 7 L8 14 M11.3 7 L11 14 M6.5 9 H13 M6.5 12 H13" stroke="#6abf2b" stroke-width="1.1" fill="none"/></svg>
<div class="fi" style="top:721.2px">Measure Values</div>
<svg class="ic" style="left:1043.8px;top:745.2px" width="12" height="12" viewBox="0 0 12 12"><path d="M4.4 0.8 L4 11.2 M8.2 0.8 L7.8 11.2 M0.8 4.2 H11.2 M0.8 7.8 H11.2" stroke="#6abf2b" stroke-width="1.05" fill="none"/></svg>
<div class="fi" style="top:743.2px">account_lat</div>
<svg class="ic" style="left:1043.8px;top:767.2px" width="12" height="12" viewBox="0 0 12 12"><path d="M4.4 0.8 L4 11.2 M8.2 0.8 L7.8 11.2 M0.8 4.2 H11.2 M0.8 7.8 H11.2" stroke="#6abf2b" stroke-width="1.05" fill="none"/></svg>
<div class="fi" style="top:765.2px">account_lon</div>
<svg class="ic" style="left:1043.8px;top:789.2px" width="12" height="12" viewBox="0 0 12 12"><path d="M4.4 0.8 L4 11.2 M8.2 0.8 L7.8 11.2 M0.8 4.2 H11.2 M0.8 7.8 H11.2" stroke="#6abf2b" stroke-width="1.05" fill="none"/></svg>
<div class="fi" style="top:787.2px">order_created_day</div>
<svg class="ic" style="left:1043.8px;top:811.2px" width="12" height="12" viewBox="0 0 12 12"><path d="M4.4 0.8 L4 11.2 M8.2 0.8 L7.8 11.2 M0.8 4.2 H11.2 M0.8 7.8 H11.2" stroke="#6abf2b" stroke-width="1.05" fill="none"/></svg>
<div class="fi" style="top:809.2px">order_created_do_w</div>
<svg class="ic" style="left:1043.8px;top:833.2px" width="12" height="12" viewBox="0 0 12 12"><path d="M4.4 0.8 L4 11.2 M8.2 0.8 L7.8 11.2 M0.8 4.2 H11.2 M0.8 7.8 H11.2" stroke="#6abf2b" stroke-width="1.05" fill="none"/></svg>
<div class="fi" style="top:831.2px">order_created_hour</div>

<!-- drag ghost -->
<div class="abs" style="left:847px;top:225px;width:188px;height:126px;border:1.5px solid #95d062;border-radius:9px;background:#e4efc7;opacity:0.9;box-shadow:1px 4px 12px rgba(0,0,0,0.13);overflow:hidden">
  <div style="position:absolute;left:0;top:0;width:186px;height:24px;background:#f3f4ef"></div>
</div>
<div class="pr" style="left:853px;top:231px;color:#444;font-size:12.2px;-webkit-text-stroke:0.5px #444">Shared Axis 1</div>
<div class="pr" style="left:855px;top:255px">SUM(order_standard_qty)</div>
<div class="pr" style="left:855px;top:277px">SUM(order_gloss_qty)</div>
<div class="pr" style="left:855px;top:299px">SUM(order_poster_qty)</div>
<div class="pr" style="left:855px;top:321px">SUM(order_total_qty)</div>
<div class="tw" style="left:1017px;top:235px"><svg width="9" height="5" viewBox="0 0 9 5"><path d="M0 0 H9 L4.5 5 Z" fill="#777"/></svg></div>
<div class="tw" style="left:1017px;top:260px"><svg width="9" height="5" viewBox="0 0 9 5"><path d="M0 0 H9 L4.5 5 Z" fill="#2f7a28"/></svg></div>
<div class="tw" style="left:1017px;top:282px"><svg width="9" height="5" viewBox="0 0 9 5"><path d="M0 0 H9 L4.5 5 Z" fill="#2f7a28"/></svg></div>
<div class="tw" style="left:1017px;top:304px"><svg width="9" height="5" viewBox="0 0 9 5"><path d="M0 0 H9 L4.5 5 Z" fill="#2f7a28"/></svg></div>
<div class="tw" style="left:1017px;top:326px"><svg width="9" height="5" viewBox="0 0 9 5"><path d="M0 0 H9 L4.5 5 Z" fill="#2f7a28"/></svg></div>

<!-- cursor -->
<div class="abs" style="left:956px;top:215px;width:52px;height:52px;border-radius:50%;background:rgba(172,152,250,0.55)"></div>
<svg class="abs" style="left:975px;top:228px" width="19" height="26" viewBox="0 0 16 22">
  <path d="M2 1.5 V17 L5.8 13.6 L8.4 19.5 L11 18.4 L8.5 12.6 L13.5 12.6 Z" fill="#111" stroke="#fff" stroke-width="1.2" stroke-linejoin="round"/>
</svg>

</div></div>
<!-- version label -->
<div class="abs" style="left:0;top:855px;width:200px;height:48px;font-size:43px;font-weight:bold;color:#111;line-height:48px;white-space:nowrap"><span style="position:absolute;left:46px">1</span><span style="position:absolute;left:66px">.</span><span style="position:absolute;left:77px">6</span></div>
</body></html>
